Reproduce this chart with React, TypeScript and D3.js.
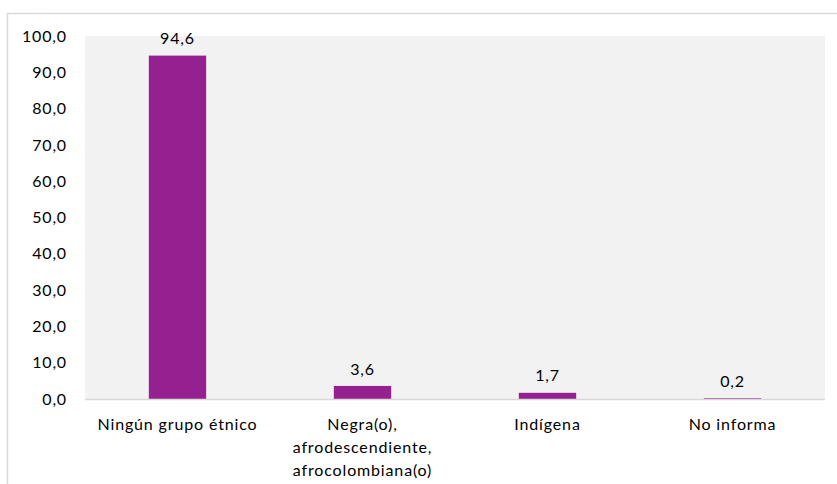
import React from "react";
import * as d3 from "d3";

const categories: string[][] = [
  ["Ningún grupo étnico"],
  ["Negra(o),", "afrodescendiente,", "afrocolombiana(o)"],
  ["Indígena"],
  ["No informa"],
];
const values: number[] = [94.6, 3.6, 1.7, 0.2];
const yTicks: number[] = [0, 10, 20, 30, 40, 50, 60, 70, 80, 90, 100];

const W = 837;
const H = 484;
const plot = { left: 85, right: 825, top: 36, bottom: 399 };
const FONT = "Lato, 'Open Sans', sans-serif";
const FS = 16;
const LS = 0.85;
const fmt = (v: number) => v.toFixed(1).replace(".", ",");

export default function App() {
  const x = d3
    .scaleBand<number>()
    .domain(values.map((_, i) => i))
    .range([plot.left, plot.right])
    .paddingInner(0.69)
    .paddingOuter(0.345);
  const y = d3.scaleLinear().domain([0, 100]).range([plot.bottom, plot.top]);

  return (
    <svg
      width={W}
      height={H}
      style={{ position: "absolute", left: 0, top: 0, background: "#fff" }}
      fontFamily={FONT}
    >
      <rect x={0} y={0} width={W} height={H} fill="#fff" />
      <path d={`M7.5,${H} L7.5,13.5 L${W},13.5`} fill="none" stroke="#d9d9d9" strokeWidth={1.5} />
      <rect
        x={plot.left}
        y={plot.top}
        width={plot.right - plot.left}
        height={plot.bottom - plot.top}
        fill="#f2f2f2"
      />
      {yTicks.map((t) => (
        <text
          key={t}
          x={67}
          y={y(t)}
          dy="0.35em"
          textAnchor="end"
          fontSize={FS}
          letterSpacing={LS}
          fill="#000"
        >
          {fmt(t)}
        </text>
      ))}
      {values.map((v, i) => (
        <g key={i}>
          <rect
            x={x(i)!}
            y={y(v)}
            width={x.bandwidth()}
            height={plot.bottom - y(v)}
            fill="#952190"
          />
          <text
            x={x(i)! + x.bandwidth() / 2}
            y={y(v) - 17}
            dy="0.35em"
            textAnchor="middle"
            fontSize={FS}
            letterSpacing={LS}
            fill="#000"
          >
            {fmt(v)}
          </text>
        </g>
      ))}
      <line
        x1={plot.left}
        x2={plot.right}
        y1={plot.bottom + 0.5}
        y2={plot.bottom + 0.5}
        stroke="#d9d9d9"
        strokeWidth={1.5}
      />
      {categories.map((lines, i) => (
        <text
          key={i}
          x={x(i)! + x.bandwidth() / 2}
          y={424}
          textAnchor="middle"
          fontSize={FS}
          letterSpacing={LS}
          fill="#000"
        >
          {lines.map((l, j) => (
            <tspan key={j} x={x(i)! + x.bandwidth() / 2} y={424 + j * 23.3} dy="0.35em">
              {l}
            </tspan>
          ))}
        </text>
      ))}
    </svg>
  );
}
